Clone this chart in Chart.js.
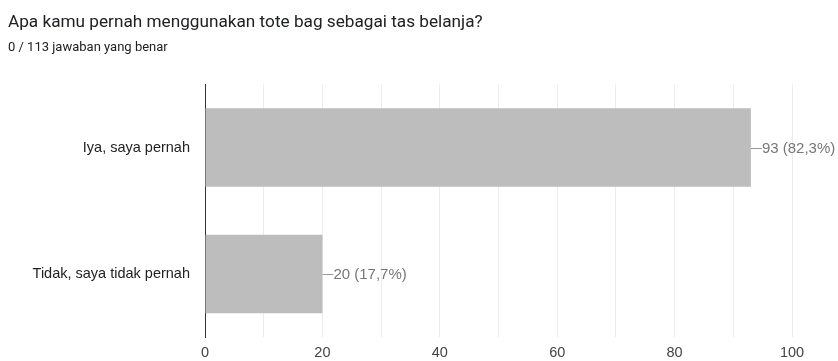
<!DOCTYPE html>
<html>
<head>
<meta charset="utf-8">
<script src="https://cdn.jsdelivr.net/npm/chart.js@4/dist/chart.umd.min.js"></script>
<style>
  html, body { margin: 0; padding: 0; background: #fff; }
  #wrap { width: 838px; height: 361px; position: relative; }
</style>
</head>
<body>
<div id="wrap"><canvas id="chart"></canvas></div>
<script>
// --- DATA ---
const titleText = 'Apa kamu pernah menggunakan tote bag sebagai tas belanja?';
const subtitleText = '0 / 113 jawaban yang benar';
const categories = ['Iya, saya pernah', 'Tidak, saya tidak pernah'];
const counts = [93, 20];
const percents = ['82,3%', '17,7%'];
const xTicks = [0, 20, 40, 60, 80, 100];

const axisFont = '"Liberation Sans", Arial, sans-serif';

// value labels with little leader line, like google forms
const valueLabels = {
  id: 'valueLabels',
  afterDatasetsDraw(chart) {
    const ctx = chart.ctx;
    const meta = chart.getDatasetMeta(0);
    ctx.save();
    ctx.font = '15px ' + axisFont;
    ctx.fillStyle = '#777';
    ctx.strokeStyle = '#999';
    ctx.lineWidth = 1;
    ctx.textBaseline = 'middle';
    meta.data.forEach((bar, i) => {
      const x = bar.x, y = Math.round(bar.y) + 0.5;
      ctx.beginPath();
      ctx.moveTo(x, y);
      ctx.lineTo(x + 11, y);
      ctx.stroke();
      ctx.fillText(counts[i] + ' (' + percents[i] + ')', x + 11, y);
    });
    ctx.restore();
  }
};

new Chart(document.getElementById('chart'), {
  type: 'bar',
  data: {
    labels: categories,
    datasets: [{
      data: counts,
      backgroundColor: '#bdbdbd',
      borderWidth: 0,
      categoryPercentage: 0.62,
      barPercentage: 1
    }]
  },
  options: {
    indexAxis: 'y',
    responsive: true,
    maintainAspectRatio: false,
    animation: false,
    layout: { padding: { left: 8, right: 46, top: 0, bottom: 0 } },
    plugins: {
      legend: { display: false },
      tooltip: { enabled: false },
      title: {
        display: true,
        text: titleText,
        align: 'start',
        color: '#202124',
        font: { family: 'Roboto, "Noto Sans", sans-serif', size: 17.2, weight: 'normal' },
        padding: { top: 12, bottom: 7 }
      },
      subtitle: {
        display: true,
        text: subtitleText,
        align: 'start',
        color: '#202124',
        font: { family: 'Roboto, "Noto Sans", sans-serif', size: 13 },
        padding: { top: 0, bottom: 29 }
      }
    },
    scales: {
      x: {
        min: 0,
        max: 100,
        ticks: {
          stepSize: 10,
          autoSkip: false,
          maxRotation: 0,
          color: '#444',
          font: { family: axisFont, size: 14.5 },
          padding: 7,
          callback: v => xTicks.includes(v) ? v : ''
        },
        grid: { color: '#ececec', drawTicks: false },
        border: { display: false },
        afterFit(scale) { scale.height = 23; }
      },
      y: {
        ticks: {
          color: '#222',
          font: { family: axisFont, size: 14.5 },
          padding: 15
        },
        grid: { display: false, drawTicks: false },
        border: { display: true, color: '#333', width: 1 },
        afterFit(scale) { scale.width = 197; }
      }
    }
  },
  plugins: [valueLabels]
});
</script>
</body>
</html>
